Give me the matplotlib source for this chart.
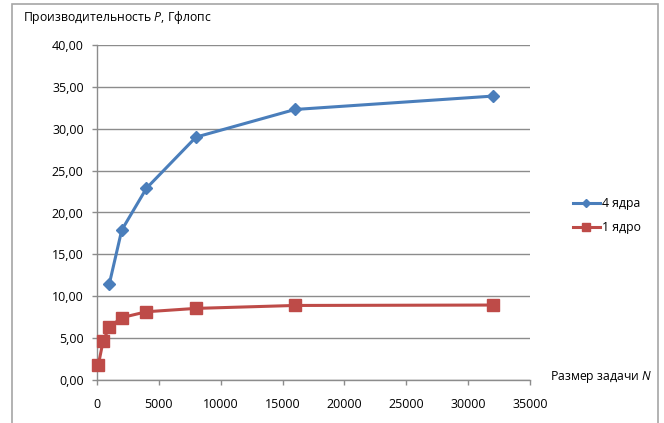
import matplotlib
matplotlib.use('Agg')
import matplotlib.pyplot as plt
from matplotlib.patches import Rectangle
from matplotlib.ticker import FuncFormatter

# data
n_4 = [1000, 2000, 4000, 8000, 16000, 32000]
p_4 = [11.5, 17.9, 22.9, 29.0, 32.3, 33.9]
n_1 = [100, 500, 1000, 2000, 4000, 8000, 16000, 32000]
p_1 = [1.75, 4.7, 6.3, 7.45, 8.15, 8.55, 8.9, 8.95]
labels = ['4 ядра', '1 ядро']

plt.rcParams['font.family'] = ['Open Sans', 'DejaVu Sans']
plt.rcParams['mathtext.fontset'] = 'custom'
plt.rcParams['mathtext.it'] = 'Open Sans:italic'
plt.rcParams['mathtext.rm'] = 'Open Sans'

fig = plt.figure(figsize=(6.64, 4.23), dpi=100)
W, H = 664, 423

# chart frame (Excel-like border)
fig.patches.append(Rectangle((12 / W, -0.05), (658 - 12) / W, 1.05 - 4 / H,
                             transform=fig.transFigure, fill=False,
                             ec='#a6a6a6', lw=1.2))

ax = fig.add_axes([97 / W, 1 - 380 / H, (530 - 97) / W, (380 - 45) / H])

blue = '#4a7ebb'
red = '#be4b48'
ax.plot(n_4, p_4, color=blue, lw=2.2, marker='D', ms=6.5, label=labels[0],
        zorder=3, clip_on=False)
ax.plot(n_1, p_1, color=red, lw=2.2, marker='s', ms=8, label=labels[1],
        zorder=3, clip_on=False)

ax.set_xlim(0, 35000)
ax.set_ylim(0, 40)
ax.set_xticks(range(0, 35001, 5000))
ax.set_yticks(range(0, 41, 5))
ax.yaxis.set_major_formatter(FuncFormatter(lambda v, p: f'{v:.2f}'.replace('.', ',')))

ax.grid(axis='y', color='#8c8c8c', lw=1)
ax.set_axisbelow(True)
for s in ['top', 'right']:
    ax.spines[s].set_visible(False)
for s in ['left', 'bottom']:
    ax.spines[s].set_color('#8c8c8c')
    ax.spines[s].set_linewidth(1)
ax.tick_params(colors='#8c8c8c', labelcolor='black', labelsize=9, length=3.6, width=1)
ax.tick_params(axis='y', pad=6)
ax.tick_params(axis='x', pad=9)

fig.text(23 / W, 1 - 18 / H, 'Производительность $\\it{P}$, Гфлопс', fontsize=8.8,
         ha='left', va='center')
fig.text(652 / W, 1 - 377 / H, 'Размер задачи $\\it{N}$', fontsize=8.8,
         ha='right', va='center')

ax.legend(loc='center left', bbox_to_anchor=(562 / W, 1 - 216 / H),
          bbox_transform=fig.transFigure, frameon=False, fontsize=8.8,
          handlelength=2.2, handletextpad=0.2, labelspacing=0.9, markerscale=0.7)

fig.savefig('out.png', dpi=100)
